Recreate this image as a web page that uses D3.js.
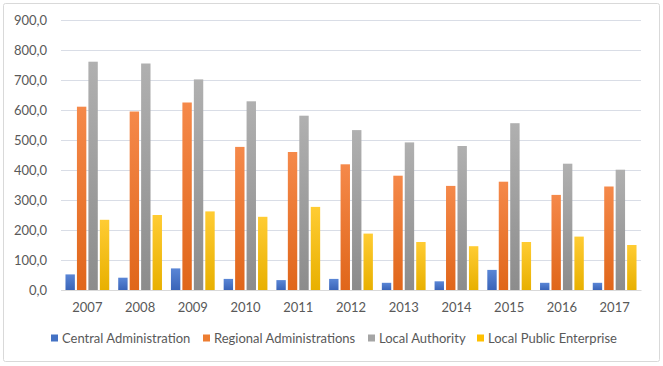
<!DOCTYPE html>
<html><head><meta charset="utf-8">
<script src="https://cdn.jsdelivr.net/npm/d3@7"></script>
<style>body{margin:0;background:#fff;}svg{display:block;}</style>
</head><body>
<svg id="c" width="663" height="366"></svg>
<script>
const years = ["2007","2008","2009","2010","2011","2012","2013","2014","2015","2016","2017"];
const seriesNames = ["Central Administration","Regional Administrations","Local Authority","Local Public Enterprise"];
const central   = [52, 41, 72, 37, 33, 37, 24, 29, 67, 24, 24];
const regional  = [611, 595, 625, 477, 460, 419, 381, 347, 361, 317, 345];
const localAuth = [761, 755, 702, 629, 581, 533, 492, 480, 556, 421, 401];
const localPub  = [234, 250, 262, 244, 277, 188, 160, 146, 160, 178, 150];
const yTicks = [0,100,200,300,400,500,600,700,800,900];
const colors = [["#5a86d6","#3a64b8"],["#f5894a","#e0661a"],["#b0b0b0","#8c8c8c"],["#ffcc33","#e8b000"]];
const legendColors = ["#4472c4","#ed7d31","#a5a5a5","#ffc000"];

(function(){
const data = [central, regional, localAuth, localPub];
const svg = d3.select("#c");
const font = "Lato, 'Open Sans', sans-serif";

svg.append("rect").attr("x",3.5).attr("y",3.5).attr("width",656).attr("height",358)
  .attr("fill","#fff").attr("stroke","#d9d9d9").attr("rx",2);

const defs = svg.append("defs");
colors.forEach((c,i)=>{
  const g = defs.append("linearGradient").attr("id","g"+i).attr("x1",0).attr("y1",0).attr("x2",0).attr("y2",1);
  g.append("stop").attr("offset","0%").attr("stop-color",c[0]);
  g.append("stop").attr("offset","100%").attr("stop-color",c[1]);
});

const mL = 61, mR = 641, mT = 20, mB = 290;
const x = d3.scaleBand().domain(years).range([mL,mR]).paddingInner(0.17).paddingOuter(0.085);
const x1 = d3.scaleBand().domain(d3.range(4)).range([0,x.bandwidth()]).paddingInner(0.18);
const y = d3.scaleLinear().domain([0,900]).range([mB,mT]);

const yAxis = d3.axisLeft(y).tickValues(yTicks).tickSize(-(mR-mL)).tickFormat(d=>d3.format(".1f")(d).replace(".",","));
const gy = svg.append("g").attr("transform",`translate(${mL},0)`).call(yAxis);
gy.select(".domain").remove();
gy.selectAll(".tick line").attr("stroke","#d9dde6").attr("stroke-width",1);
gy.selectAll(".tick text").attr("x",-14).attr("fill","#595959").style("font-family",font).style("font-size","13px");

const groups = svg.append("g").selectAll("g").data(years).join("g")
  .attr("transform",d=>`translate(${x(d)},0)`);
groups.selectAll("rect").data((d,i)=>data.map((s,k)=>({k,v:s[i]}))).join("rect")
  .attr("x",d=>x1(d.k)).attr("width",x1.bandwidth())
  .attr("y",d=>y(d.v)).attr("height",d=>y(0)-y(d.v))
  .attr("fill",d=>`url(#g${d.k})`);

const xAxis = d3.axisBottom(x).tickSize(0).tickPadding(13);
const gx = svg.append("g").attr("transform",`translate(0,${mB})`).call(xAxis);
gx.select(".domain").attr("stroke","#d9d9d9");
gx.selectAll(".tick text").attr("fill","#595959").style("font-family",font).style("font-size","13px");

const legX = [51, 203, 368, 477];
const leg = svg.append("g").selectAll("g").data(seriesNames).join("g")
  .attr("transform",(d,i)=>`translate(${legX[i]},338)`);
leg.append("rect").attr("x",0).attr("y",-3.5).attr("width",7).attr("height",7).attr("fill",(d,i)=>legendColors[i]);
leg.append("text").attr("x",11).attr("y",4.5).text(d=>d).attr("fill","#595959")
  .style("font-family",font).style("font-size","13px");
})();
</script>
</body></html>
